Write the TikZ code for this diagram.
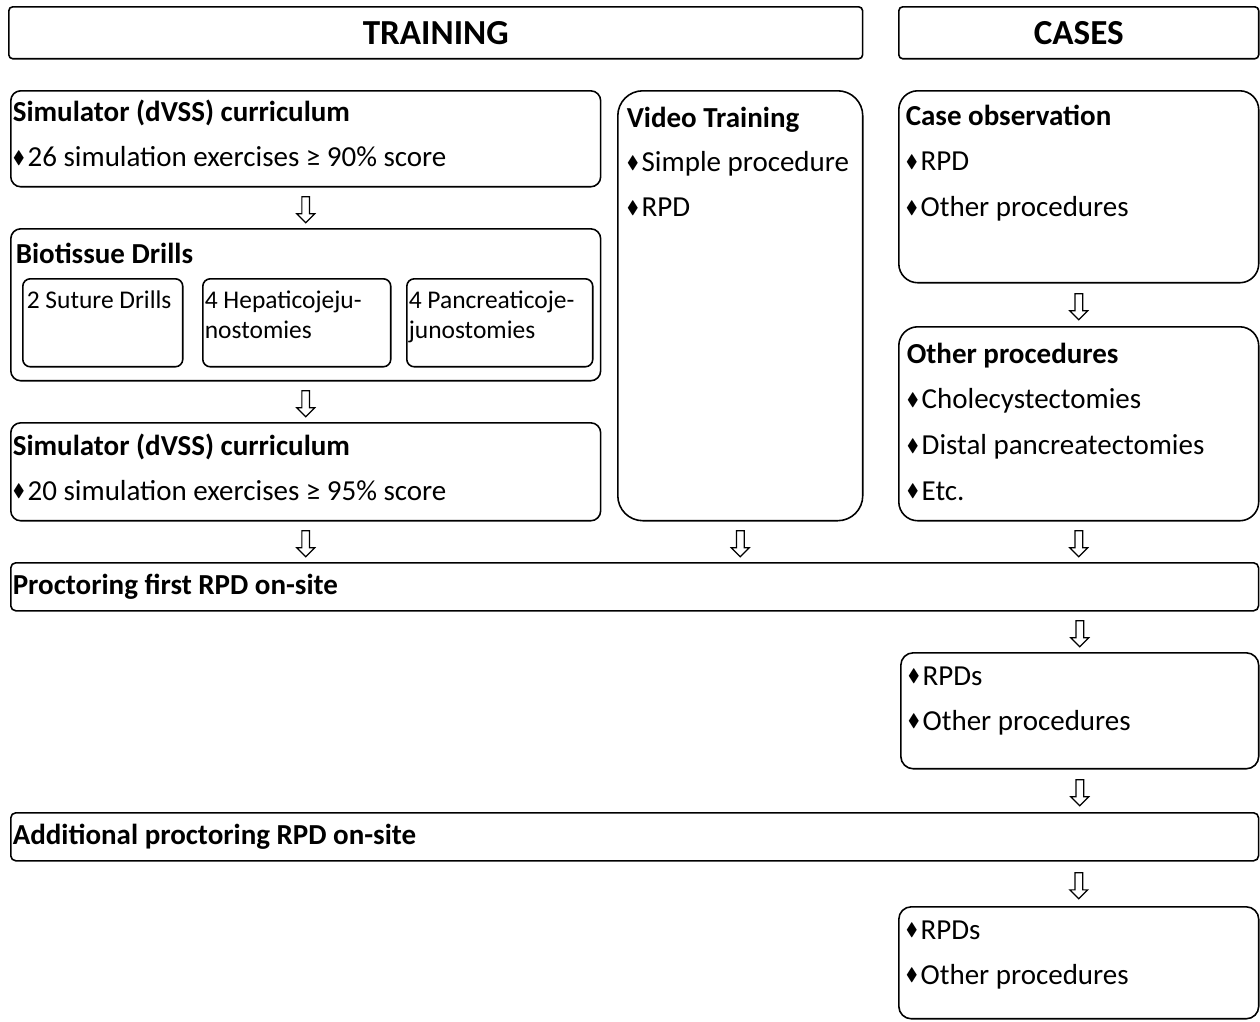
\documentclass[tikz,border=0pt]{standalone}
\usepackage{fontspec}
\setmainfont{Carlito}
\usepackage{amssymb}
\usetikzlibrary{positioning,shapes.arrows}

\newcommand{\bul}{\raisebox{0.25ex}{\scalebox{0.62}{$\blacklozenge$}}\hspace{0.1em}}

\begin{document}
\begin{tikzpicture}
[
	               x = 0.02cm,
	               y = -0.02cm,
	      line width = 0.9pt,
	   node distance = 0.2cm,
	      head/.style = { draw, rounded corners=0.08cm, anchor=north west, minimum height=1.04cm,
	                      font=\fontsize{20}{24}\selectfont\bfseries },
	       box/.style = { draw, rounded corners=0.2cm, anchor=north west },
	       txt/.style = { inner sep=0pt, align=left, font=\fontsize{16.5}{25.5}\selectfont },
	    subtxt/.style = { inner sep=0pt, align=left, font=\fontsize{14.5}{17}\selectfont },
	      wide/.style = { box, rounded corners=0.1cm, minimum width=24.96cm, minimum height=0.96cm },
	      flow/.style = { single arrow, draw, fill=white, shape border rotate=270, line width=0.7pt,
	                      inner sep=0.065cm, minimum height=0.52cm, single arrow head extend=0.1cm }
]
	\useasboundingbox (0,0) rectangle (1260,1021);

	% headers
	\node (train) at (8,6)   [head, minimum width=17.08cm] {TRAINING};
	\node (cases) at (898,6) [head, minimum width=7.2cm]   {CASES};

	% training column
	% nodes
	\node (sim1) at (10,90)  [box, minimum width=11.8cm, minimum height=1.92cm] {};
	\node (sim1t) [txt, below right=0.19cm and 0.04cm of sim1.north west]
		{\textbf{Simulator (dVSS) curriculum}\\ \bul 26 simulation exercises ≥ 90\% score};

	\node (bio) at (10,228)  [box, minimum width=11.8cm, minimum height=3.04cm] {};
	\node (biot) [txt, below right=0.28cm and 0.1cm of bio.north west] {\textbf{Biotissue Drills}};
	\node (sut) at (22,278)  [box, rounded corners=0.15cm, minimum width=3.2cm, minimum height=1.76cm] {};
	\node (hep) at (202,278) [box, rounded corners=0.15cm, minimum width=3.76cm, minimum height=1.76cm] {};
	\node (pan) at (406,278) [box, rounded corners=0.15cm, minimum width=3.72cm, minimum height=1.76cm] {};
	\node (sutt) [subtxt, below right=0.24cm and 0.08cm of sut.north west] {2 Suture Drills};
	\node (hept) [subtxt, below right=0.24cm and 0.04cm of hep.north west] {4 Hepaticojeju-\\nostomies};
	\node (pant) [subtxt, below right=0.24cm and 0.04cm of pan.north west] {4 Pancreaticoje-\\junostomies};

	\node (sim2) at (10,422) [box, minimum width=11.8cm, minimum height=1.96cm] {};
	\node (sim2t) [txt, below right=0.22cm and 0.04cm of sim2.north west]
		{\textbf{Simulator (dVSS) curriculum}\\ \bul 20 simulation exercises ≥ 95\% score};

	\node (video) at (617,90) [box, rounded corners=0.5cm, minimum width=4.9cm, minimum height=8.6cm] {};
	\node (videot) [txt, below right=0.32cm and 0.18cm of video.north west]
		{\textbf{Video Training}\\ \bul Simple procedure\\ \bul RPD};

	% cases column
	% nodes
	\node (obs) at (898,90)  [box, rounded corners=0.38cm, minimum width=7.2cm, minimum height=3.84cm] {};
	\node (obst) [txt, below right=0.28cm and 0.14cm of obs.north west, font=\fontsize{16.5}{26}\selectfont]
		{\textbf{Case observation}\\ \bul RPD\\ \bul Other procedures};

	\node (oth) at (898,326) [box, rounded corners=0.38cm, minimum width=7.2cm, minimum height=3.88cm] {};
	\node (otht) [txt, below right=0.32cm and 0.16cm of oth.north west, font=\fontsize{16.5}{26}\selectfont]
		{\textbf{Other procedures}\\ \bul Cholecystectomies\\ \bul Distal pancreatectomies\\ \bul Etc.};

	% proctoring rows
	\node (proct) at (10,562) [wide] {};
	\node (proctt) [txt, right=0.04cm of proct.west, font=\fontsize{16.5}{20}\selectfont\bfseries]
		{Proctoring first RPD on-site};
	\node (rpd1) at (900,652) [box, rounded corners=0.25cm, minimum width=7.16cm, minimum height=2.32cm] {};
	\node (rpd1t) [txt, below right=0.28cm and 0.14cm of rpd1.north west]
		{\bul RPDs\\ \bul Other procedures};

	\node (addl) at (10,812) [wide] {};
	\node (addlt) [txt, right=0.04cm of addl.west, font=\fontsize{16.5}{20}\selectfont\bfseries]
		{Additional proctoring RPD on-site};
	\node (rpd2) at (898,906) [box, rounded corners=0.25cm, minimum width=7.2cm, minimum height=2.24cm] {};
	\node (rpd2t) [txt, below right=0.28cm and 0.14cm of rpd2.north west]
		{\bul RPDs\\ \bul Other procedures};

	% edges
	\path (sim1.south) -- node [flow] {} (bio.north);
	\path (bio.south)  -- node [flow] {} (sim2.north);
	\path (obs.south)  -- node [flow] {} (oth.north);
	\path (sim2.south)  -- node [flow] {} (sim2.south |- proct.north);
	\path (video.south) -- node [flow] {} (video.south |- proct.north);
	\path (oth.south)   -- node [flow] {} (oth.south |- proct.north);
	\path (rpd1.north |- proct.south) -- node [flow] {} (rpd1.north);
	\path (rpd1.south) -- node [flow] {} (rpd1.south |- addl.north);
	\path (rpd2.north |- addl.south) -- node [flow] {} (rpd2.north);
\end{tikzpicture}
\end{document}
